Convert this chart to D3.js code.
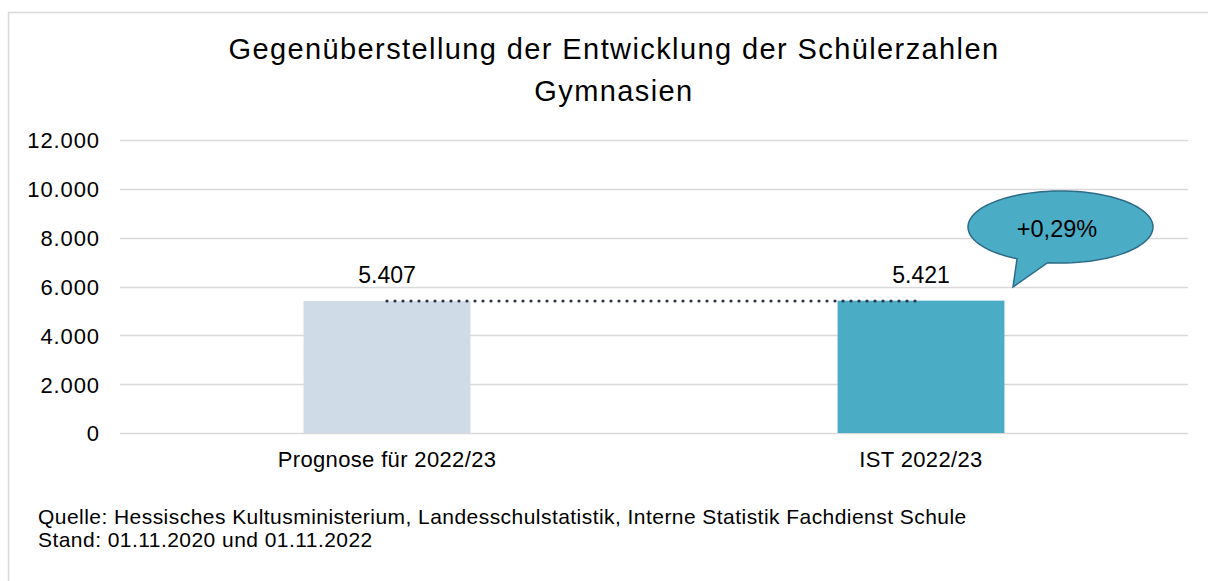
<!DOCTYPE html>
<html>
<head>
<meta charset="utf-8">
<script src="https://cdn.jsdelivr.net/npm/d3@7"></script>
<style>
  body { margin:0; background:#fff; }
  svg text { font-family: "Liberation Sans", Arial, sans-serif; fill:#000; }
</style>
</head>
<body>
<div class="chart"></div>
<script>
var categories = ["Prognose für 2022/23", "IST 2022/23"];
var values = [5407, 5421];
var barColors = ["#cfdbe6", "#4bacc6"];
var yTicks = [0, 2000, 4000, 6000, 8000, 10000, 12000];
var titleLines = ["Gegenüberstellung der Entwicklung der Schülerzahlen", "Gymnasien"];
var changeLabel = "+0,29%";
var sourceLines = ["Quelle: Hessisches Kultusministerium, Landesschulstatistik, Interne Statistik Fachdienst Schule",
                   "Stand: 01.11.2020 und 01.11.2022"];

var W = 1208, H = 581;
var fmt = d3.formatLocale({decimal: ",", thousands: ".", grouping: [3]}).format(",d");

var svg = d3.select(".chart").append("svg")
  .attr("width", W)
  .attr("height", H);

// frame
svg.append("rect")
  .attr("x", 8.5).attr("y", 12.5)
  .attr("width", W + 10).attr("height", H + 10)
  .attr("fill", "none")
  .attr("stroke", "#d9d9d9")
  .attr("stroke-width", 1.5);

// title
svg.append("text")
  .attr("text-anchor", "middle")
  .attr("font-size", "29px")
  .attr("letter-spacing", "1.4px")
  .selectAll("tspan")
  .data(titleLines)
  .enter()
  .append("tspan")
  .attr("x", 614)
  .attr("y", function(d, i){ return 59 + i * 42; })
  .text(function(d){ return d; });

var x = d3.scaleBand()
  .domain(categories)
  .range([120, 1188])
  .paddingInner(0.6875)
  .paddingOuter(0.34375);

var y = d3.scaleLinear()
  .domain([0, 12000])
  .range([433, 140]);

// gridlines
svg.append("g")
  .selectAll("line")
  .data(yTicks)
  .enter()
  .append("line")
  .attr("x1", 120).attr("x2", 1188)
  .attr("y1", function(d){ return Math.round(y(d)) + 0.5; })
  .attr("y2", function(d){ return Math.round(y(d)) + 0.5; })
  .attr("stroke", "#d9d9d9")
  .attr("stroke-width", 1.5);

// y axis labels
var yAxis = d3.axisLeft(y).tickValues(yTicks).tickSize(0).tickPadding(0).tickFormat(fmt);
var ya = svg.append("g").attr("transform", "translate(100,0)").call(yAxis);
ya.select(".domain").remove();
ya.selectAll("text")
  .attr("font-size", "22px")
  .attr("letter-spacing", "0.9px")
  .attr("dy", "0.36em")
  .attr("font-family", "Liberation Sans, Arial, sans-serif")
  .attr("fill", "#000");

// x axis labels
var xAxis = d3.axisBottom(x).tickSize(0).tickPadding(0);
var xa = svg.append("g").attr("transform", "translate(0,467)").call(xAxis);
xa.select(".domain").remove();
xa.selectAll("text")
  .attr("dy", 0)
  .attr("font-size", "22px")
  .attr("letter-spacing", "0.35px")
  .attr("font-family", "Liberation Sans, Arial, sans-serif")
  .attr("fill", "#000");

// bars
svg.append("g")
  .selectAll("rect")
  .data(values)
  .enter()
  .append("rect")
  .attr("x", function(d, i){ return x(categories[i]); })
  .attr("y", function(d){ return y(d); })
  .attr("width", x.bandwidth())
  .attr("height", function(d){ return y(0) - y(d); })
  .attr("fill", function(d, i){ return barColors[i]; });

// value labels
svg.append("g")
  .selectAll("text")
  .data(values)
  .enter()
  .append("text")
  .attr("x", function(d, i){ return x(categories[i]) + x.bandwidth() / 2; })
  .attr("y", function(d){ return y(d) - 18; })
  .attr("text-anchor", "middle")
  .attr("font-size", "23px")
  .text(function(d){ return fmt(d); });

// dotted comparison line
var cx0 = x(categories[0]) + x.bandwidth() / 2;
var cx1 = x(categories[1]) + x.bandwidth() / 2;
svg.append("line")
  .attr("x1", cx0).attr("x2", cx1 - 3)
  .attr("y1", y(values[0])).attr("y2", y(values[0]))
  .attr("stroke", "#2f3346")
  .attr("stroke-width", 3.2)
  .attr("stroke-linecap", "round")
  .attr("stroke-dasharray", "0,8");

// callout bubble
var ex = 1060.5, ey = 227, rx = 92.5, ry = 36;
var a1 = 2.06, a2 = 1.71;  // tail base angles on the ellipse
var tip = [1013, 287];
var path = d3.path();
path.moveTo(ex + rx * Math.cos(a2), ey + ry * Math.sin(a2));
var steps = 90;
for(var s=1; s<=steps; s++){
  var t = a2 - (2 * Math.PI - (a1 - a2)) * s / steps;
  path.lineTo(ex + rx * Math.cos(t), ey + ry * Math.sin(t));
}
path.lineTo(tip[0], tip[1]);
path.closePath();
svg.append("path")
  .attr("d", path.toString())
  .attr("fill", "#4bacc6")
  .attr("stroke", "#2e6b88")
  .attr("stroke-width", 1.5);

svg.append("text")
  .attr("x", 1057).attr("y", 237)
  .attr("text-anchor", "middle")
  .attr("font-size", "23.5px")
  .text(changeLabel);

// source
svg.append("text")
  .attr("font-size", "21px")
  .attr("letter-spacing", "0.45px")
  .selectAll("tspan")
  .data(sourceLines)
  .enter()
  .append("tspan")
  .attr("x", 38)
  .attr("y", function(d, i){ return 524 + i * 23; })
  .text(function(d){ return d; });
</script>
</body>
</html>
